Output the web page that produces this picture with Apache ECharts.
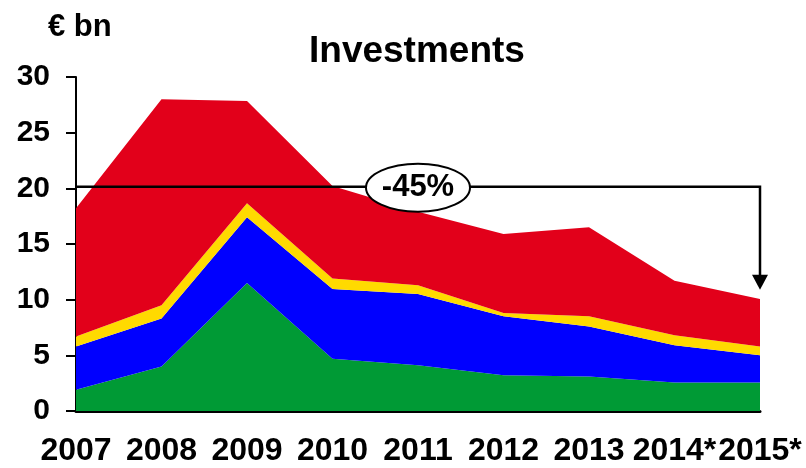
<!DOCTYPE html>
<html><head><meta charset="utf-8">
<script src="https://cdn.jsdelivr.net/npm/echarts@6/dist/echarts.min.js"></script>
<style>html,body{margin:0;padding:0;background:#fff}#c{width:806px;height:468px}</style>
</head><body><div id="c"></div>
<script>
var categories = ['2007','2008','2009','2010','2011','2012','2013','2014*','2015*'];
var green  = [1.9, 4.0, 11.5, 4.7, 4.1, 3.2, 3.1, 2.55, 2.55];
var blue   = [3.9, 4.3, 5.9, 6.25, 6.4, 5.3, 4.5, 3.35, 2.45];
var yellow = [0.9, 1.2, 1.25, 0.95, 0.8, 0.3, 0.9, 0.9, 0.8];
var red    = [11.5, 18.5, 9.2, 8.3, 6.6, 7.1, 8.0, 4.9, 4.25];
var yTicks = [0, 5, 10, 15, 20, 25, 30];
var refLevel = 20.15, arrowEnd = 10.9, changeLabel = '-45%';

var F = '"Liberation Sans", Arial, sans-serif';
function area(name, data, color) {
  return { name: name, type: 'line', stack: 'total', data: data, symbol: 'none', smooth: false,
    lineStyle: { width: 0 }, areaStyle: { color: color, opacity: 1 }, itemStyle: { color: color }, z: 2 };
}
var chart = echarts.init(document.getElementById('c'), null, { renderer: 'canvas' });
chart.setOption({
  animation: false,
  backgroundColor: '#fff',
  title: [
    { text: 'Investments', left: 304, top: 28, textStyle: { fontFamily: F, fontWeight: 'bold', fontSize: 37, color: '#000' } },
    { text: '€ bn', left: 43, top: 7, textStyle: { fontFamily: F, fontWeight: 'bold', fontSize: 31, color: '#000' } }
  ],
  grid: { left: 76, right: 46, top: 77, bottom: 57, containLabel: false },
  xAxis: { type: 'category', data: categories, boundaryGap: false,
    axisLine: { lineStyle: { color: '#000', width: 3 } }, axisTick: { show: false },
    axisLabel: { interval: 0, margin: 24, fontFamily: F, fontWeight: 'bold', fontSize: 32, color: '#000' },
    splitLine: { show: false } },
  yAxis: { type: 'value', min: yTicks[0], max: yTicks[yTicks.length-1], interval: 5,
    axisLine: { show: true, lineStyle: { color: '#000', width: 2 } },
    axisTick: { show: true, length: 10, lineStyle: { color: '#000', width: 2 } },
    axisLabel: { margin: 26, fontFamily: F, fontWeight: 'bold', fontSize: 30, color: '#000' },
    splitLine: { show: false } },
  series: [
    area('Green', green, '#009A35'),
    area('Blue', blue, '#0000FF'),
    area('Yellow', yellow, '#FFDA00'),
    area('Red', red, '#E2001A')
  ]
});
var p0 = chart.convertToPixel({ gridIndex: 0 }, [categories[0], refLevel]);
var p1 = chart.convertToPixel({ gridIndex: 0 }, [categories[categories.length-1], refLevel]);
var p2 = chart.convertToPixel({ gridIndex: 0 }, [categories[categories.length-1], arrowEnd]);
var pm = chart.convertToPixel({ gridIndex: 0 }, [categories[4], refLevel]);
chart.setOption({
  graphic: [
    { type: 'polyline', z: 100, shape: { points: [p0, p1, [p2[0], p2[1] - 14]] }, style: { stroke: '#000', lineWidth: 2.5, fill: null } },
    { type: 'polygon', z: 100, shape: { points: [[p2[0] - 8, p2[1] - 15], [p2[0] + 8, p2[1] - 15], [p2[0], p2[1]]] }, style: { fill: '#000' } },
    { type: 'ellipse', z: 101, shape: { cx: pm[0], cy: pm[1] + 1, rx: 52, ry: 24 }, style: { fill: '#fff', stroke: '#000', lineWidth: 2 } },
    { type: 'text', z: 102, x: pm[0], y: pm[1] + 1, style: { text: changeLabel, fontFamily: F, fontWeight: 'bold', fontSize: 31, fill: '#000', align: 'center', verticalAlign: 'middle' } }
  ]
});
</script></body></html>
